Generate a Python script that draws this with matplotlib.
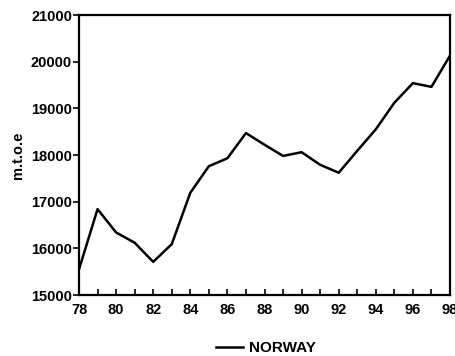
import matplotlib
matplotlib.use("Agg")
import matplotlib.pyplot as plt
from matplotlib.ticker import MultipleLocator

plt.rcParams['font.family'] = ['Liberation Sans', 'DejaVu Sans']

years = list(range(78, 99))
norway = [15550, 16840, 16340, 16120, 15710, 16090, 17190, 17760, 17930,
          18470, 18220, 17980, 18060, 17790, 17620, 18090, 18550, 19120,
          19540, 19460, 20130]
xtick_labels = ['78', '80', '82', '84', '86', '88', '90', '92', '94', '96', '98']

fig = plt.figure(figsize=(4.55, 3.56), dpi=100)
ax = fig.add_axes([79 / 455, 1 - 295 / 356, 371 / 455, 280 / 356])

ax.plot(years, norway, color='black', lw=1.8, label='NORWAY')

ax.set_xlim(78, 98)
ax.set_ylim(15000, 21000)
ax.set_xticks(years[::2])
ax.set_xticklabels(xtick_labels)
ax.xaxis.set_minor_locator(MultipleLocator(1))
ax.set_yticks(range(15000, 21001, 1000))

ax.tick_params(axis='x', which='both', direction='in', length=4, width=1.2,
               labelsize=10.5, pad=6)
ax.tick_params(axis='y', direction='out', length=4, width=1.2, labelsize=10.5, pad=1)
for lab in ax.get_xticklabels() + ax.get_yticklabels():
    lab.set_fontweight('bold')

for s in ax.spines.values():
    s.set_linewidth(1.6)

ax.set_ylabel('m.t.o.e', fontsize=10.5, fontweight='bold', labelpad=4)

fig.legend(loc='center', bbox_to_anchor=(266 / 455, 1 - 348 / 356), frameon=False,
           handlelength=1.8, handletextpad=0.4,
           prop={'size': 11, 'weight': 'bold'})

fig.savefig('out.png', dpi=100)
